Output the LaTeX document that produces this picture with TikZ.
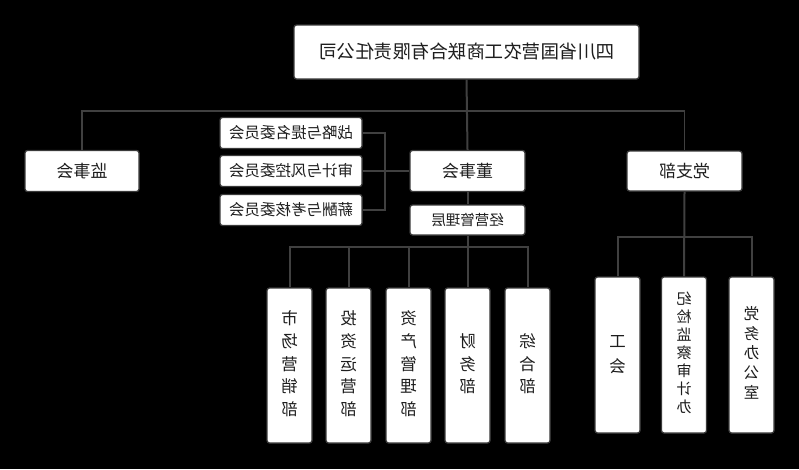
\documentclass[tikz,border=0pt]{standalone}
\usepackage{fontspec}
\usepackage{graphicx}
\usepackage{tikz}
\usetikzlibrary{positioning,calc}
\newfontfamily\cjk{Noto Sans CJK SC}
\definecolor{linegray}{HTML}{404040}
\definecolor{boxline}{HTML}{3A3A3A}
\definecolor{inkdark}{HTML}{1E1E1E}
% mirrored text, as in the picture
\newcommand{\mir}[1]{\reflectbox{#1}}
\newcommand{\mirv}[2]{\reflectbox{\renewcommand\arraystretch{#1}\begin{tabular}{@{}c@{}}#2\end{tabular}}}
\tikzset{
  orgbox/.style={draw=boxline,line width=1.3pt,rounded corners=2.5pt,fill=white,inner sep=0pt,align=center,text=inkdark},
  headbox/.style={orgbox,minimum width=345pt,minimum height=54pt,font=\cjk\fontsize{18.5}{22}\selectfont},
  unitbox/.style={orgbox,minimum width=115pt,minimum height=41pt,font=\cjk\fontsize{17}{20}\selectfont},
  cmtbox/.style={orgbox,minimum width=142pt,minimum height=31pt,font=\cjk\fontsize{15.5}{18}\selectfont},
  deptbox/.style={orgbox,minimum width=45pt,minimum height=155pt,font=\cjk\fontsize{16.5}{19}\selectfont},
  link/.style={draw=linegray,line width=2pt},
  thinlink/.style={draw=linegray,line width=1.1pt}
}
\begin{document}
\begin{tikzpicture}[x=1pt,y=-1pt]
  \fill[black] (0,0) rectangle (799,469);
  \useasboundingbox (0,0) rectangle (799,469);

  \node[headbox] (company) at (466.5,52) {\mir{四川省国营农工商联合有限责任公司}};

  \node[unitbox,minimum width=114pt] (supervisors) at (82,171) {\mir{监事会}};
  \node[unitbox] (board) at (467.5,171) {\mir{董事会}};
  \node[unitbox,minimum height=40pt] (party) at (684.5,171) {\mir{党支部}};
  \node[unitbox,minimum height=30pt,font=\cjk\fontsize{14.5}{17}\selectfont] (mgmt) at (467.5,220) {\mir{经营管理层}};

  \node[cmtbox] (strategy) at (291,133) {\mir{战略与提名委员会}};
  \node[cmtbox] (audit) at (291,171) {\mir{审计与风控委员会}};
  \node[cmtbox] (salary) at (291,210) {\mir{薪酬与考核委员会}};

  % departments
  \node[deptbox] (market) at (289.5,365.5) {\mirv{1.2}{市\\场\\营\\销\\部}};
  \node[deptbox] (invest) at (348.5,365.5) {\mirv{1.2}{投\\资\\运\\营\\部}};
  \node[deptbox] (asset) at (408.5,365.5) {\mirv{1.2}{资\\产\\管\\理\\部}};
  \node[deptbox] (finance) at (467.5,365.5) {\mirv{1.2}{财\\务\\部}};
  \node[deptbox] (general) at (527.5,365.5) {\mirv{1.2}{综\\合\\部}};

  \node[deptbox,minimum height=156pt] (union) at (617.5,355) {\mirv{1.3}{工\\会}};
  \node[deptbox,minimum height=156pt,font=\cjk\fontsize{15}{16}\selectfont] (discipline) at (684,355) {\mirv{1.12}{纪\\检\\监\\察\\审\\计\\办}};
  \node[deptbox,minimum height=156pt,font=\cjk\fontsize{15.5}{17}\selectfont] (partyoffice) at (751.5,355) {\mirv{1.15}{党\\务\\办\\公\\室}};

  \coordinate (topbus) at (466.5,111);
  \coordinate (bracket) at (385,171);
  \coordinate (deptbus) at (467.5,247);
  \coordinate (partybus) at (684,237);

  \draw[link] (company.south) -- (board.north);
  \draw[thinlink] (supervisors.north) |- (topbus) -| (party.north);

  \draw[link] (strategy.east) -| (bracket);
  \draw[link] (salary.east) -| (bracket);
  \draw[link] (audit.east) -- (board.west);

  \draw[link] (board.south) -- (mgmt.north);
  \draw[link] (mgmt.south) -- (finance.north);
  \draw[link] (market.north) |- (deptbus) -| (general.north);
  \foreach \d in {invest,asset}
    \draw[link] (\d.north) -- (\d.north |- deptbus);

  \draw[link] (party.south) -- (discipline.north);
  \draw[link] (union.north) |- (partybus) -| (partyoffice.north);
\end{tikzpicture}
\end{document}
